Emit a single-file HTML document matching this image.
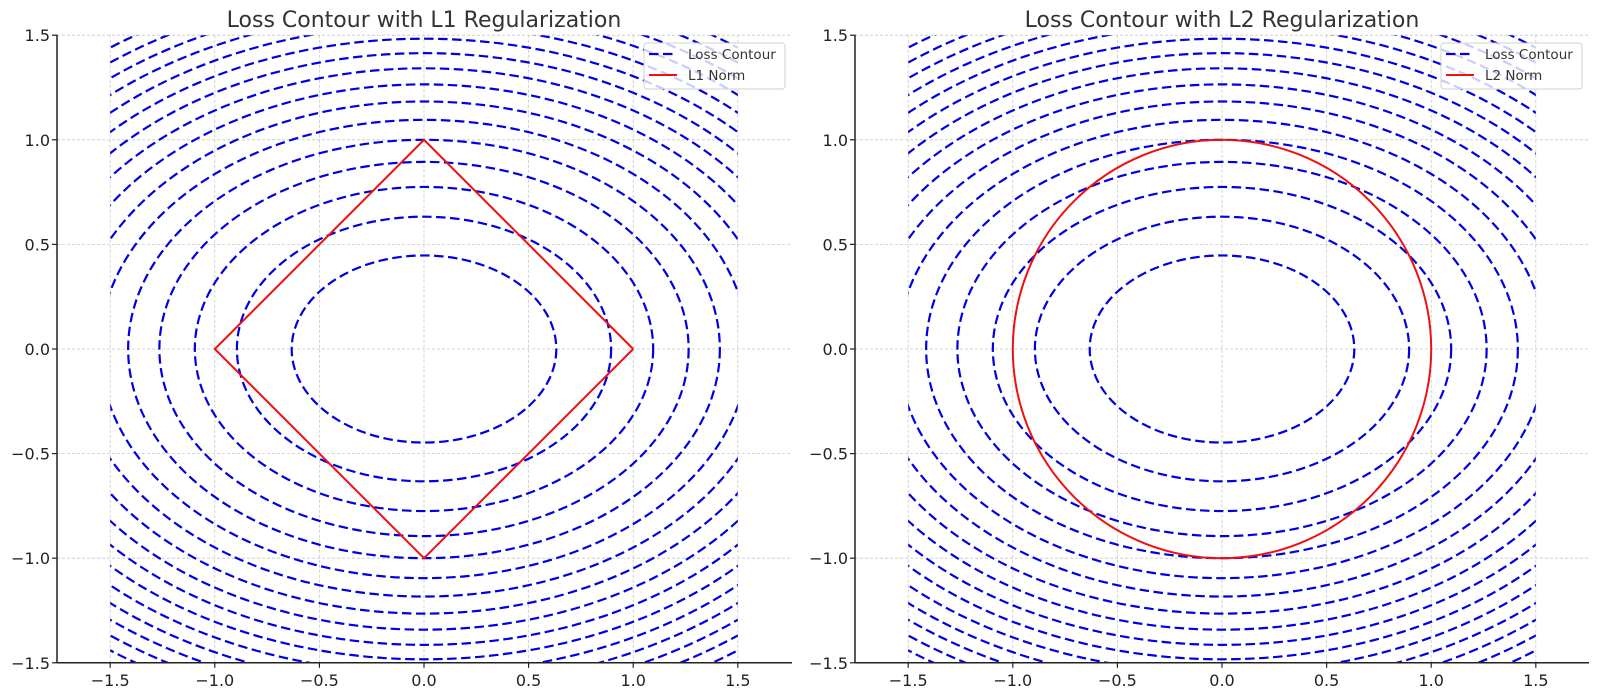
<!DOCTYPE html>
<html><head><meta charset="utf-8"><style>
body{margin:0;background:#fff;}
svg{display:block;font-family:"DejaVu Sans","Liberation Sans",sans-serif;}
</style></head><body>
<svg id="fig" width="1600" height="695" viewBox="0 0 1600 695"></svg>
<script>
const levels=[0.4,0.8,1.2,1.6,2.0,2.4,2.8,3.2,3.6,4.0,4.4,4.8,5.2,5.6,6.0,6.4];
const yWeight=[2];
const ticks=[-1.5,-1.0,-0.5,0.0,0.5,1.0,1.5];
const tickLabels=["\u22121.5","\u22121.0","\u22120.5","0.0","0.5","1.0","1.5"];
const l1Vertices=[[1,0],[0,1],[-1,0],[0,-1],[1,0]];
const normRadius=[1];
const panels=[{title:"Loss Contour with L1 Regularization",norm:"L1 Norm",x0:424,left:57,right:792,kind:"l1"},
{title:"Loss Contour with L2 Regularization",norm:"L2 Norm",x0:1222,left:855,right:1589,kind:"l2"}];
const NS="http://www.w3.org/2000/svg";
const svg=document.getElementById('fig');
const S=209.2,Y0=349;
function mk(tag,attrs,parent){const e=document.createElementNS(NS,tag);for(const k in attrs)e.setAttribute(k,attrs[k]);(parent||svg).appendChild(e);return e;}
panels.forEach((p,pi)=>{
 const g=mk('g',{});
 
 
 const sx=v=>p.x0+v*S, sy=v=>Y0-v*S;
 const top=sy(1.5)-0.5, bot=sy(-1.5);
 ticks.forEach(t=>{
  const gl=mk('line',{x1:sx(t),x2:sx(t),y1:top,y2:bot,stroke:'#c8c8c8','stroke-width':0.8,'stroke-dasharray':'3,2'},g);
  
  
  const hl=mk('line',{x1:p.left,x2:p.right,y1:sy(t),y2:sy(t),stroke:'#c8c8c8','stroke-width':0.8,'stroke-dasharray':'3,2'},g);
  
  
 });
 const cp=mk('clipPath',{id:'clip'+pi},g);
 mk('rect',{x:sx(-1.5),y:sy(1.5),width:3*S,height:3*S},cp);
 const cg=mk('g',{'clip-path':'url(#clip'+pi+')'},g);
 levels.forEach(c=>{
  const a=Math.sqrt(c),b=Math.sqrt(c/yWeight[0]);
  const e=mk('ellipse',{cx:sx(0),cy:sy(0),rx:a*S,ry:b*S,fill:'none',stroke:'#0000e0','stroke-width':2.2,'stroke-dasharray':'9.5,4.5'},cg);
  
  
 });
 if(p.kind==='l1'){
  const pl=mk('polyline',{points:l1Vertices.map(v=>sx(v[0])+','+sy(v[1])).join(' '),fill:'none',stroke:'#ee1111','stroke-width':2},g);
  
  
 }else{
  const ci=mk('ellipse',{cx:sx(0),cy:sy(0),rx:normRadius[0]*S,ry:normRadius[0]*S,fill:'none',stroke:'#ee1111','stroke-width':2},g);
  
  
 }
 const ya=mk('line',{x1:p.left,x2:p.left,y1:top,y2:bot,stroke:'#222','stroke-width':1.5},g);
 
 
 const xa=mk('line',{x1:p.left,x2:p.right,y1:bot,y2:bot,stroke:'#222','stroke-width':1.5},g);
 
 
 ticks.forEach((t,i)=>{
  mk('line',{x1:sx(t),x2:sx(t),y1:bot,y2:bot+5,stroke:'#222','stroke-width':1.2},g);
  const xt=mk('text',{x:sx(t),y:bot+23,'text-anchor':'middle','font-size':16,fill:'#222'},g);
  xt.textContent=tickLabels[i];
  
  
  mk('line',{x1:p.left-5,x2:p.left,y1:sy(t),y2:sy(t),stroke:'#222','stroke-width':1.2},g);
  const yt=mk('text',{x:p.left-7,y:sy(t)+6,'text-anchor':'end','font-size':16,fill:'#222'},g);
  yt.textContent=tickLabels[i];
  
  
 });
 const ti=mk('text',{x:sx(0),y:27,'text-anchor':'middle','font-size':22,fill:'#333'},g);
 ti.textContent=p.title;
 
 
 const lx=p.right-148;
 const lg=mk('g',{},g);
 
 
 mk('rect',{x:lx,y:43,width:141,height:46,rx:3,fill:'rgba(255,255,255,0.8)',stroke:'#d0d0d0','stroke-width':1},lg);
 mk('line',{x1:lx+5,x2:lx+33,y1:54,y2:54,stroke:'#0000e0','stroke-width':2.2,'stroke-dasharray':'9.5,4.5'},lg);
 mk('line',{x1:lx+5,x2:lx+33,y1:75,y2:75,stroke:'#ee1111','stroke-width':2},lg);
 const t1=mk('text',{x:lx+44,y:59,'font-size':13.5,fill:'#333'},lg);t1.textContent='Loss Contour';
 
 
 const t2=mk('text',{x:lx+44,y:80,'font-size':13.5,fill:'#333'},lg);t2.textContent=p.norm;
 
 
});
</script>
</body></html>
